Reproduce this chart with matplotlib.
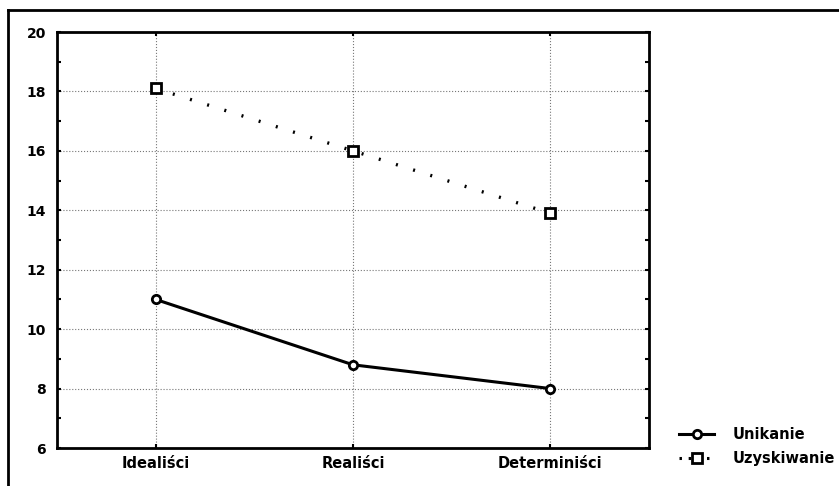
import numpy as np
import matplotlib
matplotlib.use("Agg")
import matplotlib.pyplot as plt
from matplotlib.lines import Line2D

plt.rcParams['font.family'] = ['DejaVu Sans']

groups = ["Idealiści", "Realiści", "Determiniści"]
unikanie = [11.0, 8.8, 8.0]
uzyskiwanie = [18.1, 16.0, 13.9]
y_ticks = [6, 8, 10, 12, 14, 16, 18, 20]

fig = plt.figure(figsize=(8.39, 4.86), dpi=100)
ax = fig.add_axes([57/839, 1 - 448/486, (649-57)/839, (448-32)/486])

x = np.arange(len(groups))
ax.plot(x, unikanie, color="black", lw=2.2, marker="o", ms=6,
        mfc="white", mec="black", mew=2, label="Unikanie", zorder=3)
ax.plot(x, uzyskiwanie, color="black", lw=2.4, ls=(0, (0.6, 4.8)),
        marker="s", ms=7, mfc="white", mec="black", mew=2,
        label="Uzyskiwanie", zorder=3)

ax.set_xlim(-0.5, 2.5)
ax.set_ylim(6, 20)
ax.set_xticks(x)
ax.set_xticklabels(groups, fontsize=10.5, fontweight="bold")
ax.set_yticks(y_ticks)
ax.set_yticklabels([str(v) for v in y_ticks], fontsize=10, fontweight="bold")
ax.set_yticks(np.arange(7, 20, 2), minor=True)
ax.tick_params(axis="both", which="both", direction="in", length=3,
               width=1.5, top=True, right=True)
ax.tick_params(axis="y", pad=8)
ax.tick_params(axis="x", pad=6)
ax.grid(True, which="major", color="#777777", ls=":", lw=0.8)
for s in ax.spines.values():
    s.set_linewidth(2)

# outer frame (only top and left visible in the scan)
fig.add_artist(Line2D([8/839, 8/839], [0, 1 - 10/486], color="black",
                      lw=2, transform=fig.transFigure))
fig.add_artist(Line2D([8/839, 1], [1 - 10/486, 1 - 10/486], color="black",
                      lw=2, transform=fig.transFigure))

handles = [
    Line2D([], [], color="black", lw=2.2, marker="o", ms=6, mfc="white",
           mec="black", mew=2),
    Line2D([], [], color="black", lw=2.2, ls=(0, (0.8, 2.2)), marker="s",
           ms=7, mfc="white", mec="black", mew=2),
]
fig.legend(handles, ["Unikanie", "Uzyskiwanie"], loc="lower left",
           bbox_to_anchor=(679/839, 1 - 466/486),
           frameon=False, prop={"size": 10.5, "weight": "bold"},
           handlelength=2.4, handletextpad=1.3, labelspacing=0.6,
           borderaxespad=0, borderpad=0)

fig.savefig("out.png", dpi=100)
